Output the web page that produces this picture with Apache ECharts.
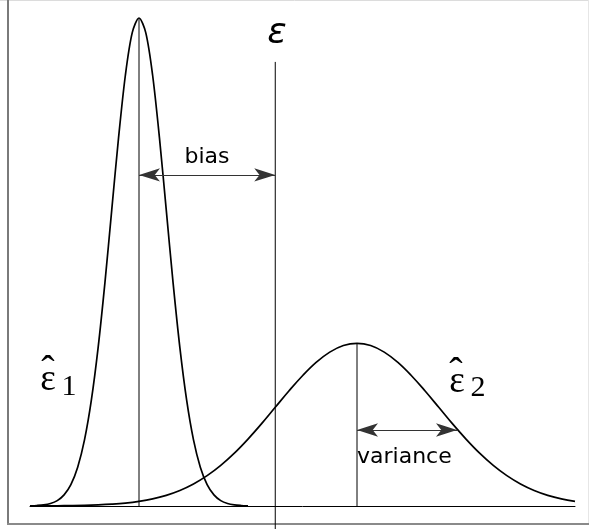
<!DOCTYPE html>
<html>
<head>
<meta charset="utf-8">
<script src="https://cdn.jsdelivr.net/npm/echarts@6/dist/echarts.min.js"></script>
<style>
  html, body { margin: 0; padding: 0; background: #fff; }
  #chart { width: 589px; height: 529px; }
</style>
</head>
<body>
<div id="chart"></div>
<script>
// Narrow estimator: sharp peak, off-centre (biased)
const narrowX = [0, 0.25, 0.5, 0.75, 1, 1.25, 1.5, 1.75, 2, 2.25, 2.5, 2.75, 3, 3.25, 3.5, 3.75, 4,
                 4.25, 4.5, 4.75, 5, 5.25, 5.5, 5.75, 6, 6.25, 6.5, 6.75, 7, 7.25, 7.5, 7.75, 8];
const narrowY = [0.0001, 0.0004, 0.0009, 0.0020, 0.0044, 0.0091, 0.0175, 0.0317, 0.0540, 0.0863, 0.1295,
                 0.1826, 0.2420, 0.3011, 0.3521, 0.3867, 0.3989, 0.3867, 0.3521, 0.3011, 0.2420, 0.1826,
                 0.1295, 0.0863, 0.0540, 0.0317, 0.0175, 0.0091, 0.0044, 0.0020, 0.0009, 0.0004, 0.0001];

// Wide estimator: broad peak, close to the true value
const wideX = [0, 0.5, 1, 1.5, 2, 2.5, 3, 3.5, 4, 4.5, 5, 5.5, 6, 6.5, 7, 7.5, 8, 8.5, 9, 9.5, 10,
               10.5, 11, 11.5, 12, 12.5, 13, 13.5, 14, 14.5, 15, 15.5, 16, 16.5, 17, 17.5, 18, 18.5, 19, 19.5, 20];
const wideY = [0.0000, 0.0001, 0.0002, 0.0003, 0.0005, 0.0009, 0.0015, 0.0024, 0.0038, 0.0058, 0.0087,
               0.0127, 0.0180, 0.0248, 0.0332, 0.0432, 0.0547, 0.0673, 0.0807, 0.0940, 0.1065, 0.1174,
               0.1258, 0.1312, 0.1330, 0.1312, 0.1258, 0.1174, 0.1065, 0.0940, 0.0807, 0.0673, 0.0547,
               0.0432, 0.0332, 0.0248, 0.0180, 0.0127, 0.0087, 0.0058, 0.0038];

// Means and true value
const narrowMean = 4;
const narrowPeak = 0.3989;
const wideMean = 12;
const widePeak = 0.1330;
const trueValue = 9;
const trueLineTop = 0.363;

// Arrow spans
const biasSpan = [4, 9];
const biasLevel = 0.2706;
const varianceSpan = [12, 15.67];
const varianceLevel = 0.0621;

const X_MIN = 0, X_MAX = 20, Y_MIN = -0.0188, Y_MAX = 0.3989;

const pairs = (xs, ys) => xs.map((x, i) => [x, ys[i]]);

const chart = echarts.init(document.getElementById('chart'), null, { renderer: 'canvas' });

const curveStyle = { color: '#000', width: 1.7 };
const thinStyle = { color: '#000', width: 1 };

// same [width, height] arrow head on both ends
const headSize = [10, 21];

const arrowLine = (span, level) => ({
  type: 'lines',
  coordinateSystem: 'cartesian2d',
  symbol: ['arrow', 'arrow'],
  symbolSize: [headSize, headSize],
  silent: true,
  lineStyle: { color: '#333', width: 1, opacity: 1 },
  itemStyle: { color: '#000' },
  data: [{ coords: [[span[0], level], [span[1], level]] }],
  z: 5
});

const serif = '"Liberation Serif"';
const label = (x, y, text, font, align) => ({
  type: 'text', x, y,
  style: { text, font, fill: '#000', textAlign: align || 'center', textVerticalAlign: 'middle' }
});

chart.setOption({
  animation: false,
  backgroundColor: '#fff',
  grid: { left: 30, right: 14, top: 18, bottom: 0 },
  xAxis: {
    type: 'value', min: X_MIN, max: X_MAX,
    axisLine: { show: true, onZero: true, lineStyle: { color: '#000', width: 1 } },
    axisTick: { show: false }, axisLabel: { show: false }, splitLine: { show: false }
  },
  yAxis: {
    type: 'value', min: Y_MIN, max: Y_MAX,
    axisLine: { show: false }, axisTick: { show: false },
    axisLabel: { show: false }, splitLine: { show: false }
  },
  series: [
    {
      type: 'line', name: 'narrow', data: pairs(narrowX, narrowY),
      showSymbol: false, smooth: 0.3, clip: false, lineStyle: curveStyle, z: 3
    },
    {
      type: 'line', name: 'wide', data: pairs(wideX, wideY),
      showSymbol: false, smooth: 0.4, clip: false, lineStyle: curveStyle, z: 3
    },
    {
      type: 'line', name: 'narrowMean', data: [[narrowMean, 0], [narrowMean, narrowPeak]],
      showSymbol: false, clip: false, lineStyle: thinStyle, z: 2
    },
    {
      type: 'line', name: 'wideMean', data: [[wideMean, 0], [wideMean, widePeak]],
      showSymbol: false, clip: false, lineStyle: thinStyle, z: 2
    },
    {
      type: 'line', name: 'trueValue', data: [[trueValue, Y_MIN], [trueValue, trueLineTop]],
      showSymbol: false, clip: false, lineStyle: thinStyle, z: 2
    },
    arrowLine(biasSpan, biasLevel),
    arrowLine(varianceSpan, varianceLevel)
  ],
  graphic: [
    // frame
    { type: 'line', z: -10, shape: { x1: 0, y1: 0.5, x2: 589, y2: 0.5 }, style: { stroke: '#dcdcdc', lineWidth: 1 } },
    { type: 'line', z: -10, shape: { x1: 588.5, y1: 0, x2: 588.5, y2: 525 }, style: { stroke: '#e6e6e6', lineWidth: 1 } },
    { type: 'line', z: -10, shape: { x1: 8, y1: 0, x2: 8, y2: 525 }, style: { stroke: '#7a7a7a', lineWidth: 2 } },
    { type: 'line', z: -10, shape: { x1: 7, y1: 524, x2: 589, y2: 524 }, style: { stroke: '#8a8a8a', lineWidth: 2 } },
    // annotations
    label(207, 157, 'bias', '22px "DejaVu Sans"'),
    label(357, 457, 'variance', '22px "DejaVu Sans"', 'left'),
    label(277, 34, 'ε', 'italic 36px "DejaVu Sans"'),
    // estimator symbols: epsilon, hat, subscript
    label(48, 380, 'ε', '37px ' + serif),
    label(48, 372, 'ˆ', '40px ' + serif),
    label(69, 387, '1', '30px ' + serif),
    label(457, 382.5, 'ε', '37px ' + serif),
    label(456, 374, 'ˆ', '40px ' + serif),
    label(478, 388, '2', '30px ' + serif)
  ]
});
</script>
</body>
</html>
